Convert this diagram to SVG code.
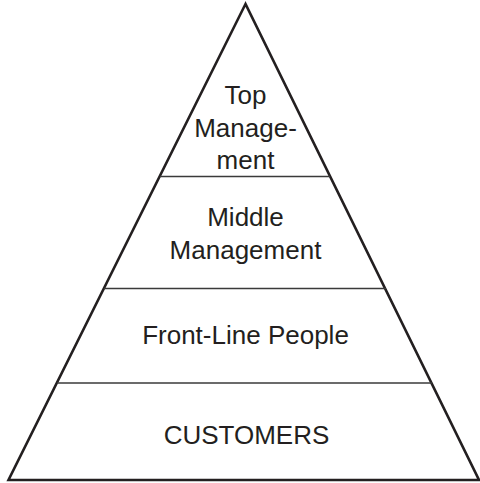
<svg xmlns="http://www.w3.org/2000/svg" width="480" height="483" viewBox="0 0 480 483">
<style>
.edge{fill:none;stroke:#231f20;stroke-width:2.6;stroke-linejoin:miter}
.div{stroke:#3a3a3a;stroke-width:1.6}
.lbl{font-family:"Liberation Sans",Arial,sans-serif;font-size:26px;fill:#231f20;text-anchor:middle}
</style>
<rect width="480" height="483" fill="#ffffff"/>
<g id="pyramid">
<polygon class="edge" points="245.5,4 8.5,480 479,480"/>
</g>
<g id="connectors">
<line class="div" x1="160" y1="176.5" x2="330" y2="176.5"/>
<line class="div" x1="104" y1="288.5" x2="386" y2="288.5"/>
<line class="div" x1="57" y1="383" x2="432" y2="383"/>
</g>
<g id="top-management">
<text class="lbl" x="245.5" y="104">Top</text>
<text class="lbl" x="245.5" y="136.5">Manage-</text>
<text class="lbl" x="245.5" y="169">ment</text>
</g>
<g id="middle-management">
<text class="lbl" x="245.5" y="226">Middle</text>
<text class="lbl" x="245.5" y="258.5">Management</text>
</g>
<g id="front-line-people">
<text class="lbl" x="245.5" y="343.5">Front-Line People</text>
</g>
<g id="customers">
<text class="lbl" x="246.5" y="444">CUSTOMERS</text>
</g>
</svg>
